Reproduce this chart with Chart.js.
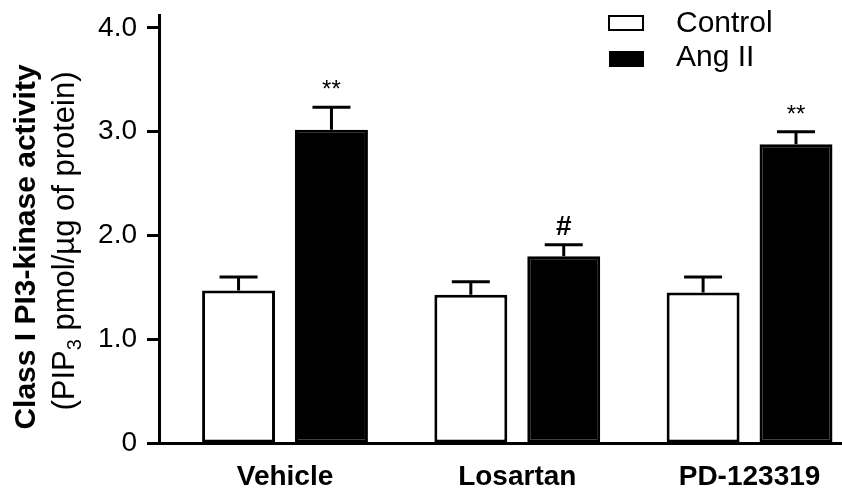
<!DOCTYPE html>
<html>
<head>
<meta charset="utf-8">
<script src="https://cdn.jsdelivr.net/npm/chart.js@4.4.0/dist/chart.umd.min.js"></script>
<style>
  html, body { margin: 0; padding: 0; background: #fff; }
</style>
</head>
<body>
<canvas id="myChart" width="842" height="489"></canvas>
<script>
var categories = ['Vehicle', 'Losartan', 'PD-123319'];
var seriesNames = ['Control', 'Ang II'];
var controlMean = [1.47, 1.43, 1.45];
var controlSem = [0.13, 0.125, 0.15];
var angMean = [3.02, 1.80, 2.88];
var angSem = [0.215, 0.11, 0.12];
var angMarks = ['**', '#', '**'];
var yTicks = [0, 1, 2, 3, 4];
var yTitle = 'Class I PI3-kinase activity';

var FONT = '"Liberation Sans", Arial, sans-serif';

function points(values) {
    return values.map(function (v, i) { return { x: i, y: v }; });
}

// error bars, significance marks, legend and the two-line y title
var extras = {
    id: 'extras',
    afterDatasetsDraw: function (chart) {
        var ctx = chart.ctx;
        var y = chart.scales.y;
        var means = [controlMean, angMean];
        var sems = [controlSem, angSem];
        ctx.save();
        ctx.strokeStyle = '#000';
        ctx.fillStyle = '#000';
        ctx.lineWidth = 3;
        chart.data.datasets.forEach(function (ds, d) {
            chart.getDatasetMeta(d).data.forEach(function (bar, i) {
                var top = y.getPixelForValue(means[d][i] + sems[d][i]);
                ctx.beginPath();
                ctx.moveTo(bar.x, bar.y);
                ctx.lineTo(bar.x, top);
                ctx.moveTo(bar.x - 19, top);
                ctx.lineTo(bar.x + 19, top);
                ctx.stroke();
                if (d === 1) {
                    var m = angMarks[i];
                    ctx.font = m === '#' ? 'bold 28px ' + FONT : '24px ' + FONT;
                    ctx.textAlign = 'center';
                    ctx.textBaseline = 'alphabetic';
                    ctx.fillText(m, bar.x, top - 10);
                }
            });
        });
        ctx.restore();
    },
    afterDraw: function (chart) {
        var ctx = chart.ctx;
        ctx.save();
        // legend
        ctx.lineWidth = 2;
        ctx.strokeStyle = '#000';
        ctx.fillStyle = '#fff';
        ctx.fillRect(609, 16, 34, 14);
        ctx.strokeRect(609, 16, 34, 14);
        ctx.fillStyle = '#000';
        ctx.fillRect(609, 51, 35, 16);
        ctx.font = '30px ' + FONT;
        ctx.textAlign = 'left';
        ctx.textBaseline = 'alphabetic';
        ctx.fillText(seriesNames[0], 676, 32);
        ctx.fillText(seriesNames[1], 676, 66);

        // y title, bold line
        ctx.save();
        ctx.translate(35, 247);
        ctx.rotate(-Math.PI / 2);
        ctx.font = 'bold 30px ' + FONT;
        ctx.textAlign = 'center';
        ctx.fillText(yTitle, 0, 0);
        ctx.restore();

        // y title, second line with subscript
        ctx.save();
        ctx.translate(74, 241);
        ctx.rotate(-Math.PI / 2);
        ctx.textAlign = 'left';
        var big = '31px ' + FONT, small = '20px ' + FONT;
        var parts = [['(PIP', big, 0], ['3', small, 7], [' pmol/\u00b5g of protein)', big, 0]];
        var total = 0;
        parts.forEach(function (p) { ctx.font = p[1]; total += ctx.measureText(p[0]).width; });
        var x = -total / 2;
        parts.forEach(function (p) {
            ctx.font = p[1];
            ctx.fillText(p[0], x, p[2]);
            x += ctx.measureText(p[0]).width;
        });
        ctx.restore();
        ctx.restore();
    }
};

var ctx = document.getElementById('myChart');

var myChart = new Chart(ctx, {
    type: 'bar',
    data: {
        datasets: [{
            label: seriesNames[0],
            data: points(controlMean),
            backgroundColor: '#fff',
            borderColor: '#000',
            borderWidth: 3,
            borderSkipped: false,
            categoryPercentage: 0.8,
            barPercentage: 0.785
        }, {
            label: seriesNames[1],
            data: points(angMean),
            backgroundColor: '#000',
            borderColor: '#000',
            borderWidth: 3,
            borderSkipped: false,
            categoryPercentage: 0.8,
            barPercentage: 0.785
        }]
    },
    options: {
        responsive: false,
        animation: false,
        devicePixelRatio: 1,
        layout: { padding: { top: 15, right: 0, bottom: 0, left: 0 } },
        plugins: { legend: { display: false }, tooltip: { enabled: false } },
        scales: {
            x: {
                type: 'linear',
                offset: false,
                bounds: 'data',
                min: -0.5425,
                max: 2.398,
                afterBuildTicks: function (s) {
                    s.ticks = categories.map(function (c, i) { return { value: i }; });
                },
                afterFit: function (s) {
                    s.height = 46;
                    s.paddingLeft = 0;
                    s.paddingRight = 0;
                },
                ticks: {
                    callback: function (v) { return categories[v]; },
                    font: { family: FONT, size: 28, weight: 'bold' },
                    color: '#000',
                    padding: 17,
                    autoSkip: false,
                    maxRotation: 0
                },
                grid: { display: false, drawTicks: false, offset: false },
                border: { display: true, color: '#000', width: 3 }
            },
            y: {
                min: 0,
                max: 4.125,
                afterBuildTicks: function (s) {
                    s.ticks = yTicks.map(function (v) { return { value: v }; });
                },
                afterFit: function (s) {
                    s.width = 159;
                    s.paddingTop = 0;
                    s.paddingBottom = 0;
                },
                ticks: {
                    callback: function (v) { return v === 0 ? '0' : v.toFixed(1); },
                    font: { family: FONT, size: 28 },
                    color: '#000',
                    padding: 10
                },
                grid: { drawOnChartArea: false, drawTicks: true, tickLength: 12, tickWidth: 3, tickColor: '#000' },
                border: { display: true, color: '#000', width: 3 }
            }
        }
    },
    plugins: [extras]
});
</script>
</body>
</html>
